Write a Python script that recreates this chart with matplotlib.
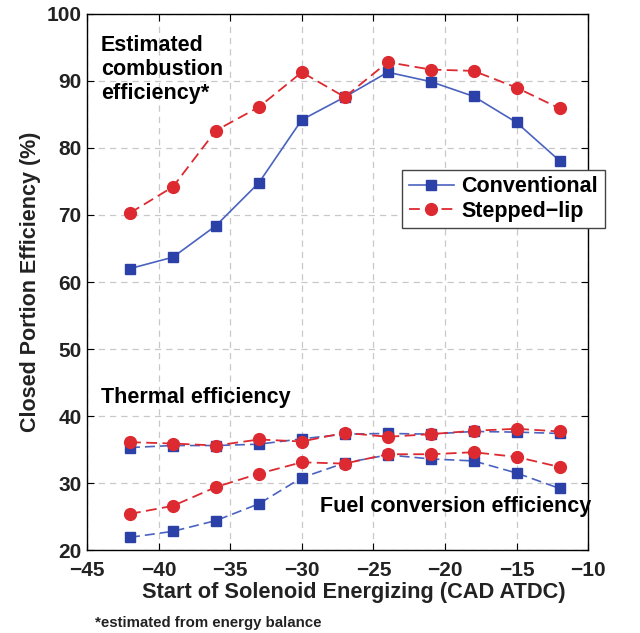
import matplotlib.pyplot as plt

plt.rcParams['font.family'] = ['Liberation Sans', 'DejaVu Sans']
plt.rcParams['axes.unicode_minus'] = True

# start of solenoid energizing (CAD ATDC)
soe = [-42, -39, -36, -33, -30, -27, -24, -21, -18, -15, -12]

# estimated combustion efficiency (%)
comb_conv = [62.0, 63.7, 68.4, 74.8, 84.2, 87.6, 91.3, 89.9, 87.7, 83.8, 78.1]
comb_step = [70.3, 74.2, 82.6, 86.1, 91.3, 87.6, 92.8, 91.7, 91.5, 89.0, 85.9]

# thermal efficiency (%)
therm_conv = [35.3, 35.6, 35.6, 35.8, 36.6, 37.3, 37.4, 37.3, 37.7, 37.6, 37.4]
therm_step = [36.1, 35.9, 35.6, 36.5, 36.2, 37.5, 36.9, 37.3, 37.8, 38.1, 37.7]

# fuel conversion efficiency (%)
fuel_conv = [21.9, 22.8, 24.4, 26.9, 30.8, 33.0, 34.2, 33.6, 33.3, 31.5, 29.2]
fuel_step = [25.4, 26.6, 29.4, 31.4, 33.1, 32.9, 34.3, 34.3, 34.6, 33.9, 32.4]

BLUE = '#4a62c0'
BLUE_MK = '#2b41a8'
RED = '#dc2a30'
TXT = '#222222'

fig = plt.figure(figsize=(6.4, 6.33), dpi=100)
ax = fig.add_axes([0.136, 0.131, 0.783, 0.847])

conv_kw = dict(color=BLUE, marker='s', markersize=6.5, markerfacecolor=BLUE_MK,
               markeredgecolor=BLUE_MK, linewidth=1.2)
step_kw = dict(color=RED, marker='o', markersize=8.5, markerfacecolor=RED,
               markeredgecolor=RED, linewidth=1.3, dashes=(6, 3))

ax.plot(soe, comb_conv, linestyle='-', label='Conventional', **conv_kw)
ax.plot(soe, comb_step, label='Stepped\u2212lip', **step_kw)
ax.plot(soe, therm_conv, dashes=(6, 3), **conv_kw)
ax.plot(soe, therm_step, **step_kw)
ax.plot(soe, fuel_conv, dashes=(6, 3), **conv_kw)
ax.plot(soe, fuel_step, **step_kw)

ax.set_xlim(-45, -10)
ax.set_ylim(20, 100)
ax.set_xticks(range(-45, -9, 5))
ax.set_yticks(range(20, 101, 10))
ax.tick_params(direction='in', top=True, right=True, labelsize=15, length=5)
ax.tick_params(axis='x', pad=8)
ax.tick_params(axis='y', pad=4)
for lbl in ax.get_xticklabels() + ax.get_yticklabels():
    lbl.set_fontweight('bold')
    lbl.set_color(TXT)
ax.grid(True, color='#c8c8c8', linestyle=(0, (5, 4)), linewidth=0.9)
for sp in ax.spines.values():
    sp.set_linewidth(1.0)

ax.set_xlabel('Start of Solenoid Energizing (CAD ATDC)', fontsize=15.7,
              fontweight='bold', color=TXT, labelpad=1, x=0.533)
ax.set_ylabel('Closed Portion Efficiency (%)', fontsize=15.5,
              fontweight='bold', color=TXT, labelpad=4)

ax.text(-44.05, 96.9, 'Estimated\ncombustion\nefficiency*', fontsize=15.5,
        fontweight='bold', va='top', ha='left', linespacing=1.2)
ax.text(-44.05, 42.8, 'Thermal efficiency', fontsize=15.5, fontweight='bold',
        va='center', ha='left')
ax.text(-28.7, 26.5, 'Fuel conversion efficiency', fontsize=15.5,
        fontweight='bold', va='center', ha='left')

leg = ax.legend(loc='upper right', bbox_to_anchor=(1.033, 0.709),
                prop={'weight': 'bold', 'size': 15.5}, fancybox=False,
                edgecolor='#444444', framealpha=1, handlelength=2.1,
                borderpad=0.3, labelspacing=0.15, handletextpad=0.35,
                borderaxespad=0)
leg.get_frame().set_linewidth(1.0)

fig.text(0.149, 0.009, '*estimated from energy balance', fontsize=10.8,
         fontweight='bold', color=TXT)

fig.savefig('out.png', dpi=100)
